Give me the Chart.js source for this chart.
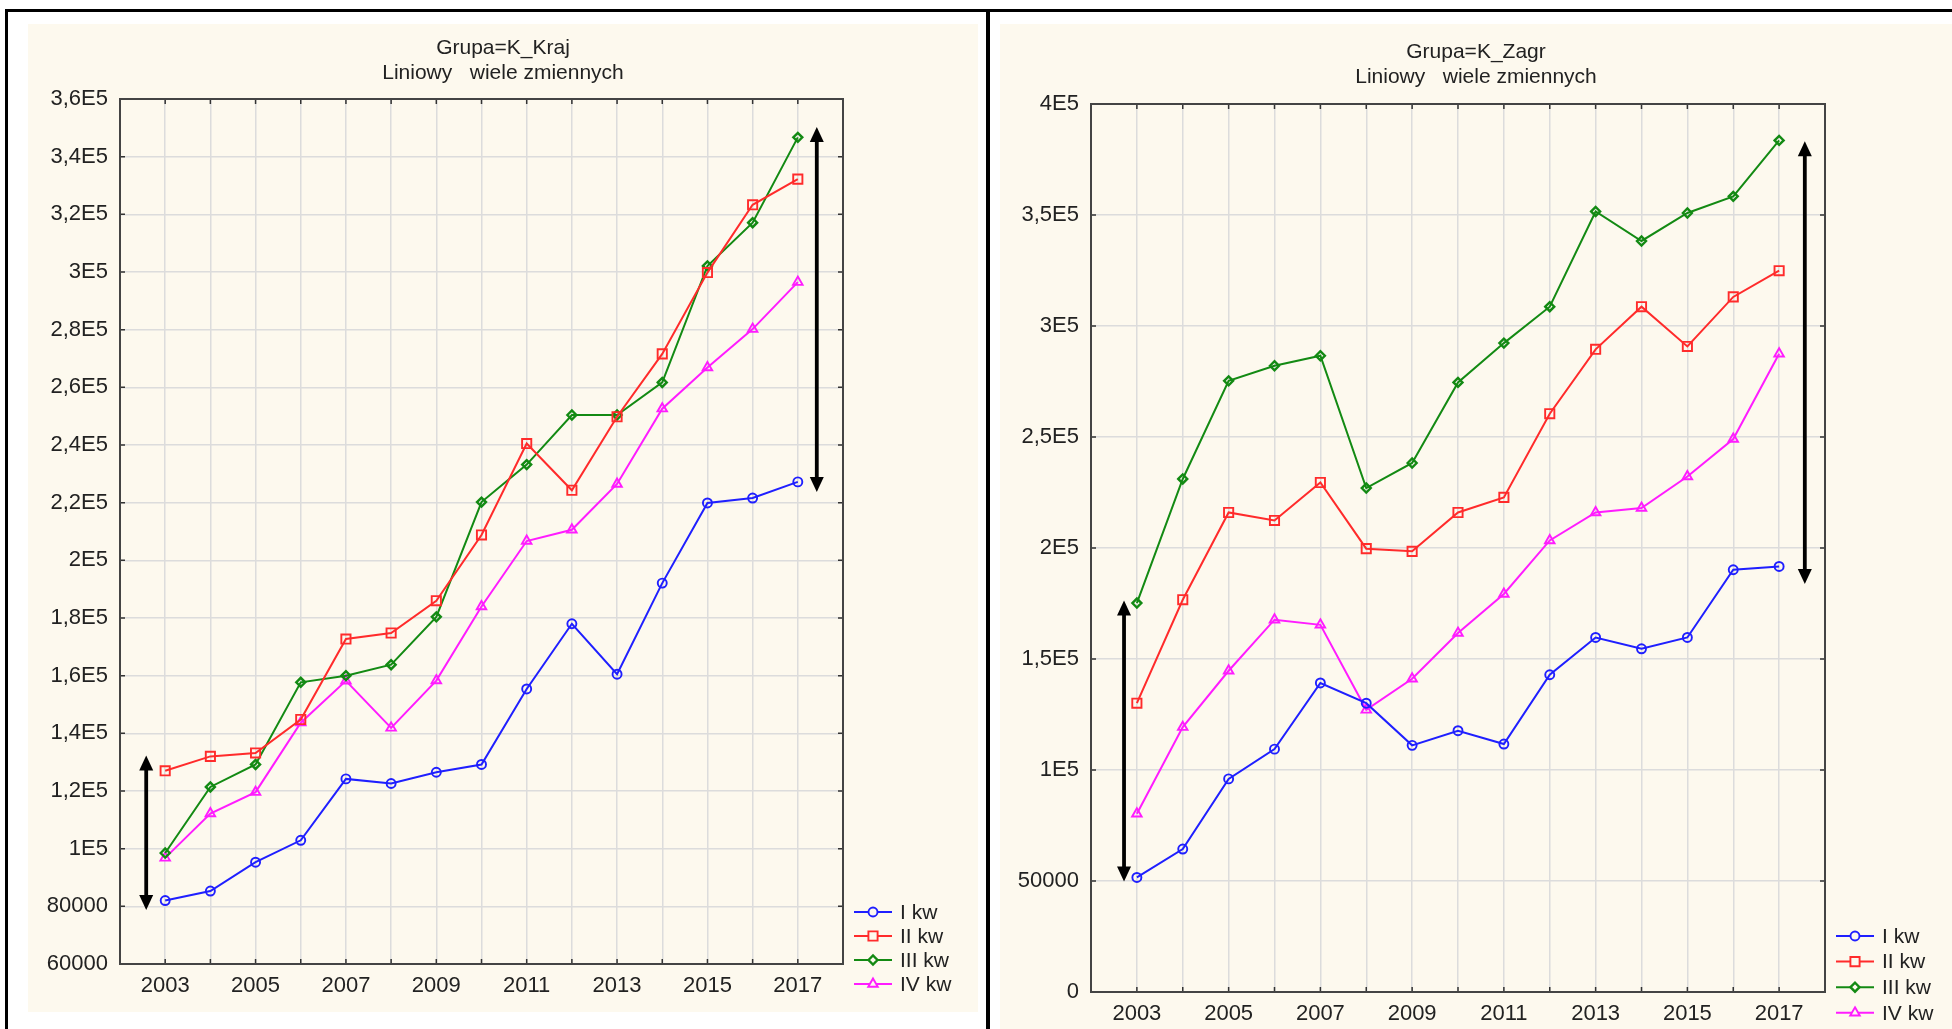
<!DOCTYPE html>
<html>
<head>
<meta charset="utf-8">
<script src="https://cdn.jsdelivr.net/npm/chart.js@4.4.0/dist/chart.umd.min.js"></script>
<style>
  body { margin: 0; background: #fff; width: 1952px; height: 1029px; position: relative; overflow: hidden; }
  .rule { position: absolute; background: #000; }
  .panel { position: absolute; background: #fdf9ee; }
</style>
</head>
<body>
<div class="rule" style="left:5px;top:9px;width:1947px;height:3px"></div>
<div class="rule" style="left:5px;top:9px;width:3px;height:1020px"></div>
<div class="rule" style="left:986px;top:9px;width:4px;height:1020px"></div>
<div class="panel" style="left:28px;top:24px;width:950px;height:988px"><canvas id="krajChart" width="950" height="988"></canvas></div>
<div class="panel" style="left:1000px;top:24px;width:952px;height:1005px"><canvas id="zagrChart" width="952" height="1005"></canvas></div>

<script>
// data
const years = [2003, 2004, 2005, 2006, 2007, 2008, 2009, 2010, 2011, 2012, 2013, 2014, 2015, 2016, 2017];
const seriesNames = ['I kw', 'II kw', 'III kw', 'IV kw'];

const krajI   = [82000, 85300, 95300, 102900, 124200, 122600, 126500, 129200, 155400, 178000, 160500, 192100, 219900, 221600, 227200];
const krajII  = [127000, 132000, 133200, 144800, 172700, 174800, 186000, 208800, 240500, 224300, 249800, 271600, 299800, 323300, 332200];
const krajIII = [98500, 121400, 129200, 157700, 160000, 163800, 180400, 220200, 233200, 250400, 250400, 261700, 302100, 317100, 346700];
const krajIV  = [96800, 112200, 119600, 143700, 158200, 141900, 158300, 184000, 206700, 210600, 226500, 252600, 266900, 280200, 296500];

const zagrI   = [51600, 64400, 96000, 109400, 139200, 130100, 111100, 117700, 111700, 142900, 159700, 154600, 159700, 190200, 191700];
const zagrII  = [130100, 176700, 216000, 212400, 229500, 199700, 198500, 216000, 222800, 260500, 289500, 308700, 290800, 313100, 324900];
const zagrIII = [175200, 231100, 275300, 282100, 286600, 227000, 238300, 274600, 292300, 308700, 351600, 338300, 350900, 358400, 383600];
const zagrIV  = [80300, 119300, 144700, 167700, 165400, 127100, 141100, 161700, 179300, 203400, 216000, 218000, 232200, 249100, 287500];

// double arrows drawn on the plots (x in years, y in values)
const krajArrowX = [2002.58, 2017.42];
const krajArrowFrom = [78700, 223700];
const krajArrowTo = [132300, 350300];
const zagrArrowX = [2002.72, 2017.56];
const zagrArrowFrom = [49800, 183800];
const zagrArrowTo = [176400, 383200];

const xTickLabels = ['2003', '2005', '2007', '2009', '2011', '2013', '2015', '2017'];
const krajYTicks = ['60000', '80000', '1E5', '1,2E5', '1,4E5', '1,6E5', '1,8E5', '2E5', '2,2E5', '2,4E5', '2,6E5', '2,8E5', '3E5', '3,2E5', '3,4E5', '3,6E5'];
const zagrYTicks = ['0', '50000', '1E5', '1,5E5', '2E5', '2,5E5', '3E5', '3,5E5', '4E5'];

// styles
const seriesColors = ['#1f1fff', '#ff2b2b', '#138a13', '#ff1cff'];
const seriesMarkers = ['circle', 'rect', 'rectRot', 'triangle'];
const markerRadius = [4.5, 6.5, 4.5, 5.5];
const FONT = '"Liberation Sans", Arial, sans-serif';

Chart.defaults.font.family = FONT;
Chart.defaults.color = '#222';

const arrowPlugin = {
  id: 'arrows',
  afterDatasetsDraw(chart, args, opts) {
    const { ctx, scales: { x, y } } = chart;
    ctx.save();
    ctx.fillStyle = '#000';
    ctx.strokeStyle = '#000';
    ctx.lineWidth = 3.8;
    opts.xs.forEach((xv, i) => {
      const px = x.getPixelForValue(xv);
      const top = y.getPixelForValue(opts.to[i]);
      const bot = y.getPixelForValue(opts.from[i]);
      const hw = 7, hh = 15;
      ctx.beginPath();
      ctx.moveTo(px, top + hh - 2);
      ctx.lineTo(px, bot - hh + 2);
      ctx.stroke();
      ctx.beginPath();
      ctx.moveTo(px, top); ctx.lineTo(px - hw, top + hh); ctx.lineTo(px + hw, top + hh);
      ctx.closePath(); ctx.fill();
      ctx.beginPath();
      ctx.moveTo(px, bot); ctx.lineTo(px - hw, bot - hh); ctx.lineTo(px + hw, bot - hh);
      ctx.closePath(); ctx.fill();
    });
    ctx.restore();
  }
};

// small inward ticks on all four plot edges
const innerTicks = {
  id: 'innerTicks',
  afterDraw(chart) {
    const { ctx, chartArea: a, scales: { x, y } } = chart;
    ctx.save();
    ctx.strokeStyle = '#333';
    ctx.lineWidth = 1.5;
    ctx.beginPath();
    x.ticks.forEach(t => {
      const px = x.getPixelForValue(t.value);
      ctx.moveTo(px, a.top); ctx.lineTo(px, a.top + 5);
      ctx.moveTo(px, a.bottom); ctx.lineTo(px, a.bottom - 5);
    });
    y.ticks.forEach(t => {
      const py = y.getPixelForValue(t.value);
      ctx.moveTo(a.left, py); ctx.lineTo(a.left + 5, py);
      ctx.moveTo(a.right, py); ctx.lineTo(a.right - 5, py);
    });
    ctx.stroke();
    ctx.strokeStyle = '#444';
    ctx.lineWidth = 2;
    ctx.strokeRect(a.left, a.top, a.right - a.left, a.bottom - a.top);
    ctx.restore();
  }
};

const headerPlugin = {
  id: 'header',
  afterDraw(chart, args, opts) {
    const { ctx, width } = chart;
    ctx.save();
    ctx.fillStyle = '#222';
    ctx.font = '21px ' + FONT;
    ctx.textAlign = 'center';
    ctx.textBaseline = 'middle';
    opts.lines.forEach((s, i) => ctx.fillText(s, width / 2, opts.top + i * opts.step));
    ctx.restore();
  }
};

const sideLegend = {
  id: 'sideLegend',
  afterDraw(chart, args, opts) {
    const { ctx, chartArea: a } = chart;
    const x0 = a.right + 11;
    ctx.save();
    ctx.font = '21px ' + FONT;
    ctx.textBaseline = 'middle';
    chart.data.datasets.forEach((ds, i) => {
      const yy = a.bottom + opts.top + i * opts.step;
      ctx.strokeStyle = ds.borderColor;
      ctx.lineWidth = 2;
      ctx.beginPath(); ctx.moveTo(x0, yy); ctx.lineTo(x0 + 38, yy); ctx.stroke();
      ctx.fillStyle = '#fdf9ee';
      ctx.lineWidth = ds.pointBorderWidth;
      Chart.helpers.drawPoint(ctx, { pointStyle: ds.pointStyle, radius: ds.pointRadius, rotation: 0, borderWidth: ds.pointBorderWidth }, x0 + 19, yy);
      ctx.fillStyle = '#222';
      ctx.fillText(ds.label, x0 + 46, yy + 1);
    });
    ctx.restore();
  }
};

function makeChart(id, series, yMin, yMax, yStep, yLabels, arrows, layout) {
  const datasets = series.map((vals, i) => ({
    label: seriesNames[i],
    data: years.map((yr, k) => ({ x: yr, y: vals[k] })),
    borderColor: seriesColors[i],
    backgroundColor: 'rgba(0,0,0,0)',
    borderWidth: 2,
    pointStyle: seriesMarkers[i],
    pointRadius: markerRadius[i],
    pointBorderWidth: i === 2 ? 2.4 : 1.9,
    pointBorderColor: seriesColors[i],
    pointBackgroundColor: 'rgba(0,0,0,0)',
    tension: 0
  }));

  return new Chart(document.getElementById(id), {
    type: 'line',
    data: { datasets },
    options: {
      responsive: false,
      animation: false,
      layout: { padding: layout.padding },
      plugins: {
        legend: { display: false },
        tooltip: { enabled: false },
        arrows,
        header: layout.header,
        sideLegend: layout.legend
      },
      scales: {
        x: {
          type: 'linear', min: 2002, max: 2018,
          afterFit: s => { s.height = layout.xHeight; },
          grid: { color: '#dcdcdc', lineWidth: 1.5, drawTicks: false },
          border: { display: false },
          ticks: {
            stepSize: 1, padding: 9, autoSkip: false, maxRotation: 0,
            font: { size: 22 }, color: '#222',
            callback: v => xTickLabels.includes(String(v)) ? String(v) : ''
          }
        },
        y: {
          min: yMin, max: yMax,
          afterFit: s => { s.width = 80; },
          grid: { color: '#dcdcdc', lineWidth: 1.5, drawTicks: false },
          border: { display: false },
          ticks: {
            stepSize: yStep, padding: 12, autoSkip: false,
            font: { size: 22 }, color: '#222',
            callback: v => yLabels[Math.round((v - yMin) / yStep)]
          }
        }
      }
    },
    plugins: [arrowPlugin, innerTicks, headerPlugin, sideLegend]
  });
}

makeChart('krajChart', [krajI, krajII, krajIII, krajIV], 60000, 360000, 20000, krajYTicks,
  { xs: krajArrowX, from: krajArrowFrom, to: krajArrowTo },
  {
    padding: { left: 12, right: 135, top: 75, bottom: 7 },
    xHeight: 41,
    header: { lines: ['Grupa=K_Kraj', 'Liniowy   wiele zmiennych'], top: 24, step: 25 },
    legend: { top: -52, step: 24 }
  });

makeChart('zagrChart', [zagrI, zagrII, zagrIII, zagrIV], 0, 400000, 50000, zagrYTicks,
  { xs: zagrArrowX, from: zagrArrowFrom, to: zagrArrowTo },
  {
    padding: { left: 11, right: 127, top: 80, bottom: 5 },
    xHeight: 32,
    header: { lines: ['Grupa=K_Zagr', 'Liniowy   wiele zmiennych'], top: 28, step: 25 },
    legend: { top: -56, step: 25.6 }
  });
</script>
</body>
</html>
